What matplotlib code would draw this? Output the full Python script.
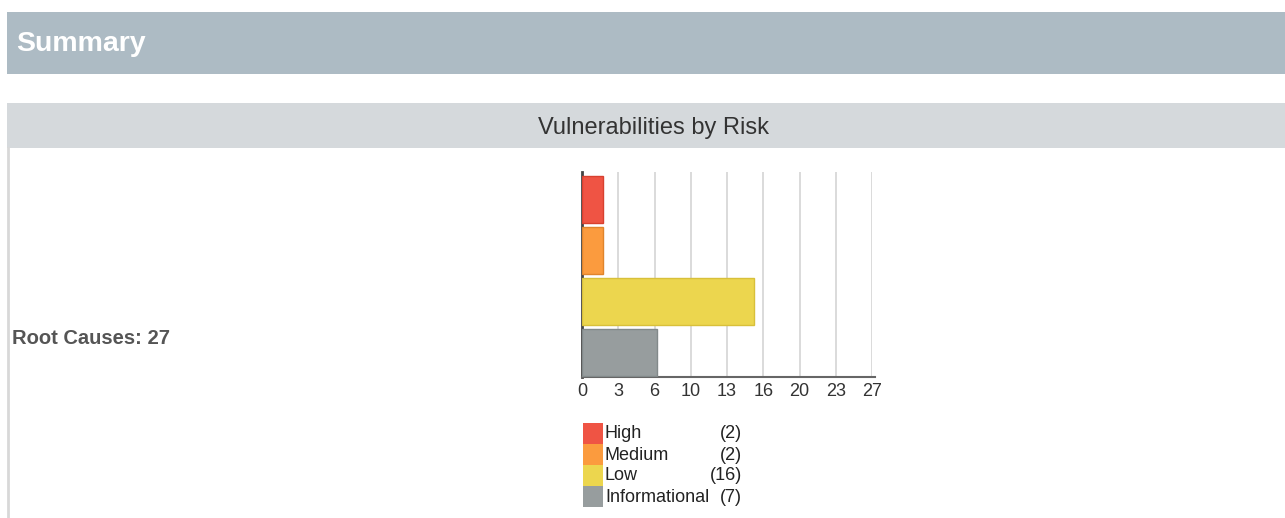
import matplotlib
matplotlib.use("Agg")
import matplotlib.pyplot as plt
from matplotlib.patches import Rectangle
from matplotlib.lines import Line2D
import numpy as np

plt.rcParams['font.family'] = ['Liberation Sans', 'DejaVu Sans']

# ---- data ----
categories = ["High", "Medium", "Low", "Informational"]
counts = [2, 2, 16, 7]
bar_colors = ["#ef5444", "#fb9b3e", "#ecd64e", "#979d9e"]
edge_colors = ["#d8402f", "#e0842c", "#d8c03a", "#82898a"]
total = 27
tick_values = [0, 3.375, 6.75, 10.125, 13.5, 16.875, 20.25, 23.625, 27]
tick_labels = ["0", "3", "6", "10", "13", "16", "20", "23", "27"]

W, H = 1285, 518
fig = plt.figure(figsize=(W / 100, H / 100), dpi=100)
fig.patch.set_facecolor("white")


def fx(x):
    return x / W


def fy(y):
    return 1 - y / H


# header bands
fig.patches.append(Rectangle((fx(7), fy(74)), fx(1285 - 7), 62 / H,
                             transform=fig.transFigure, facecolor="#adbbc4",
                             edgecolor="none", zorder=0))
fig.text(fx(16), fy(44), "Summary", color="white", fontsize=20.5,
         fontweight="bold", va="center", ha="left")

fig.patches.append(Rectangle((fx(7), fy(148)), fx(1285 - 7), 45 / H,
                             transform=fig.transFigure, facecolor="#d5d9dc",
                             edgecolor="none", zorder=0))
fig.text(fx(654), fy(128), "Vulnerabilities by Risk", color="#333333",
         fontsize=17, va="center", ha="center")

fig.lines.append(Line2D([fx(8), fx(8)], [fy(148), fy(518)],
                        transform=fig.transFigure, color="#d8d8d8", lw=2))

fig.text(fx(12), fy(339), f"Root Causes: {total}", color="#555555",
         fontsize=14.5, fontweight="bold", va="center", ha="left")

# bar chart
ax = fig.add_axes([fx(582), fy(377), fx(872 - 582), (377 - 172) / H])
y = np.arange(len(categories))
ax.barh(y, counts, height=0.92, color=bar_colors, edgecolor=edge_colors,
        linewidth=1, zorder=3)
ax.set_xlim(0, total)
ax.set_ylim(3.47, -0.54)
ax.set_yticks([])
ax.set_xticks(tick_values)
ax.set_xticklabels(tick_labels, fontsize=13, color="#333333")
ax.tick_params(axis="x", length=0, pad=4)
ax.grid(axis="x", color="#d4d4d4", linewidth=1.2, zorder=0)
for s in ["top", "right"]:
    ax.spines[s].set_visible(False)
ax.spines["left"].set_color("#444444")
ax.spines["left"].set_linewidth(2)
ax.spines["bottom"].set_color("#666666")
ax.spines["bottom"].set_linewidth(1.5)
ax.spines["bottom"].set_bounds(0, total + 0.3)
ax.set_facecolor("white")

# legend
row_top = 423
row_h = 21
for i, (cat, c, col) in enumerate(zip(categories, counts, bar_colors)):
    top = row_top + i * row_h
    fig.patches.append(Rectangle((fx(583), fy(top + row_h)), fx(20), row_h / H,
                                 transform=fig.transFigure, facecolor=col,
                                 edgecolor="none"))
    fig.text(fx(605), fy(top + row_h / 2 + 0.5), cat, fontsize=13,
             color="#222222", va="center", ha="left")
    fig.text(fx(742), fy(top + row_h / 2 + 0.5), f"({c})", fontsize=13,
             color="#222222", va="center", ha="right")

fig.savefig("out.png", dpi=100, facecolor="white")
